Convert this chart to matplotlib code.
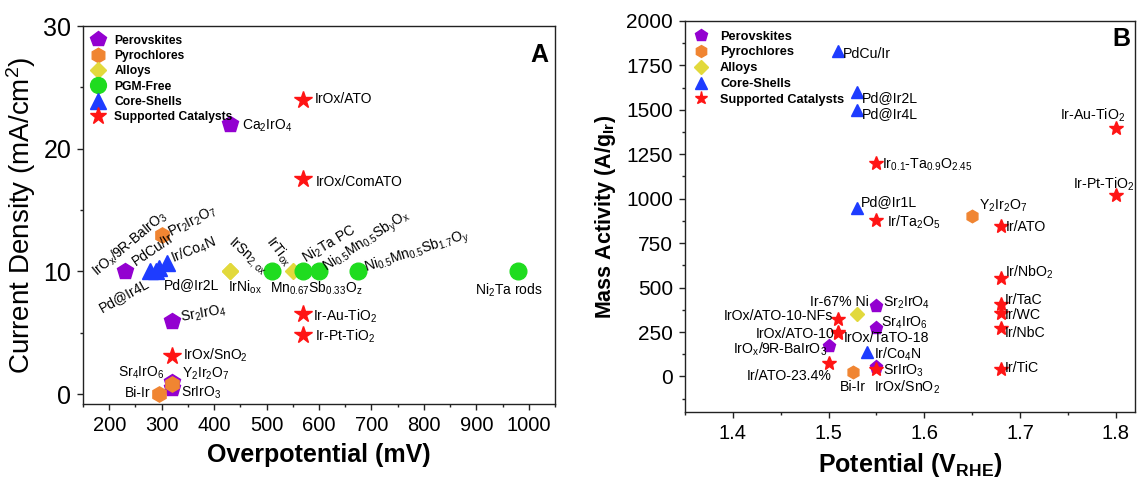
import matplotlib.pyplot as plt
from matplotlib.ticker import MultipleLocator

plt.rcParams['font.family'] = ['Liberation Sans', 'DejaVu Sans']
plt.rcParams['mathtext.fontset'] = 'custom'
plt.rcParams['mathtext.rm'] = 'Liberation Sans'
plt.rcParams['mathtext.bf'] = 'Liberation Sans:bold'
plt.rcParams['mathtext.default'] = 'regular'

# ---------------- panel A: overpotential (mV) / current density (mA/cm2)
a_perov_eta = [230, 430, 320, 320, 320]
a_perov_j = [10, 22, 6, 1.0, 0.5]
a_perov_names = ['IrO$_x$/9R-BaIrO$_3$', 'Ca$_2$IrO$_4$', 'Sr$_2$IrO$_4$',
                 'Sr$_4$IrO$_6$', 'SrIrO$_3$']

a_pyro_eta = [300, 320, 295]
a_pyro_j = [13, 0.8, 0]
a_pyro_names = ['Pr$_2$Ir$_2$O$_7$', 'Y$_2$Ir$_2$O$_7$', 'Bi-Ir']

a_alloy_eta = [430, 430, 550]
a_alloy_j = [10, 10, 10]
a_alloy_names = ['IrSn$_{2,ox}$', 'IrNi$_{ox}$', 'IrTi$_{ox}$']

a_pgm_eta = [510, 570, 600, 675, 980]
a_pgm_j = [10, 10, 10, 10, 10]
a_pgm_names = ['Mn$_{0.67}$Sb$_{0.33}$O$_z$', 'Ni$_2$Ta PC',
               'Ni$_{0.5}$Mn$_{0.5}$Sb$_y$O$_x$',
               'Ni$_{0.5}$Mn$_{0.5}$Sb$_{1.7}$O$_y$', 'Ni$_2$Ta rods']

a_core_eta = [278, 290, 295, 310]
a_core_j = [10, 10, 10.3, 10.7]
a_core_names = ['Pd@Ir4L', 'Pd@Ir2L', 'PdCu/Ir', 'Ir/Co$_4$N']

a_supp_eta = [570, 570, 570, 570, 320]
a_supp_j = [24, 17.5, 6.5, 4.8, 3.1]
a_supp_names = ['IrOx/ATO', 'IrOx/ComATO', 'Ir-Au-TiO$_2$', 'Ir-Pt-TiO$_2$',
                'IrOx/SnO$_2$']

# ---------------- panel B: potential (V_RHE) / mass activity (A/g_Ir)
b_perov_e = [1.55, 1.55, 1.50, 1.55]
b_perov_ma = [395, 275, 170, 55]
b_perov_names = ['Sr$_2$IrO$_4$', 'Sr$_4$IrO$_6$', 'IrO$_x$/9R-BaIrO$_3$',
                 'SrIrO$_3$']

b_pyro_e = [1.65, 1.525]
b_pyro_ma = [900, 25]
b_pyro_names = ['Y$_2$Ir$_2$O$_7$', 'Bi-Ir']

b_alloy_e = [1.53]
b_alloy_ma = [350]
b_alloy_names = ['Ir-67% Ni']

b_core_e = [1.51, 1.53, 1.53, 1.53, 1.54]
b_core_ma = [1830, 1600, 1500, 950, 140]
b_core_names = ['PdCu/Ir', 'Pd@Ir2L', 'Pd@Ir4L', 'Pd@Ir1L', 'Ir/Co$_4$N']

b_supp_e = [1.80, 1.80, 1.55, 1.55, 1.68, 1.68, 1.68, 1.68, 1.68, 1.68,
            1.51, 1.51, 1.51, 1.50, 1.55]
b_supp_ma = [1400, 1020, 1200, 880, 845, 555, 410, 355, 270, 40,
             325, 250, 245, 75, 40]
b_supp_names = ['Ir-Au-TiO$_2$', 'Ir-Pt-TiO$_2$', 'Ir$_{0.1}$-Ta$_{0.9}$O$_{2.45}$',
                'Ir/Ta$_2$O$_5$', 'Ir/ATO', 'Ir/NbO$_2$', 'Ir/TaC', 'Ir/WC',
                'Ir/NbC', 'Ir/TiC', 'IrOx/ATO-10-NFs', 'IrOx/ATO-10',
                'IrOx/TaTO-18', 'Ir/ATO-23.4%', 'IrOx/SnO$_2$']

# marker style per class
styles = {
    'Perovskites': dict(marker='p', color='#9300d0'),
    'Pyrochlores': dict(marker='h', color='#f08532'),
    'Alloys': dict(marker='D', color='#e2d93c'),
    'PGM-Free': dict(marker='o', color='#1fdc1f'),
    'Core-Shells': dict(marker='^', color='#1e3cff'),
    'Supported Catalysts': dict(marker='*', color='#ff1414'),
}

# label offsets in pixels from the marker: (dx, dy, ha, rotation)
a_label_pos = {
    'IrO$_x$/9R-BaIrO$_3$': (-28, -5, 'left', 40),
    'Ca$_2$IrO$_4$': (12, -5.6, 'left', 0),
    'Sr$_2$IrO$_4$': (9, -1.5, 'left', 10),
    'Sr$_4$IrO$_6$': (-8, 5.4, 'right', 0),
    'SrIrO$_3$': (9, -8.8, 'left', 0),
    'Pr$_2$Ir$_2$O$_7$': (9.5, -2.2, 'left', 27),
    'Y$_2$Ir$_2$O$_7$': (9.7, 7, 'left', 0),
    'Bi-Ir': (-9, -2.7, 'right', 0),
    'IrSn$_{2,ox}$': (-1.5, 28.7, 'left', -42),
    'IrNi$_{ox}$': (-1.75, -19.7, 'left', 0),
    'IrTi$_{ox}$': (-27, 30.3, 'left', -52),
    'Mn$_{0.67}$Sb$_{0.33}$O$_z$': (-1.75, -20.7, 'left', 0),
    'Ni$_2$Ta PC': (2.75, 8.7, 'left', 31),
    'Ni$_{0.5}$Mn$_{0.5}$Sb$_y$O$_x$': (7.7, 0.3, 'left', 33),
    'Ni$_{0.5}$Mn$_{0.5}$Sb$_{1.7}$O$_y$': (7.5, -0.7, 'left', 18),
    'Ni$_2$Ta rods': (-9.5, -23, 'center', 0),
    'Pd@Ir4L': (-48.3, -40.7, 'left', 29),
    'Pd@Ir2L': (7.75, -18, 'left', 0),
    'PdCu/Ir': (-23, 1.6, 'left', 34),
    'Ir/Co$_4$N': (6, 0, 'left', 22),
    'IrOx/ATO': (11.75, -3.5, 'left', 0),
    'IrOx/ComATO': (12.75, -7, 'left', 0),
    'Ir-Au-TiO$_2$': (10, -5.7, 'left', 0),
    'Ir-Pt-TiO$_2$': (11.75, -5.7, 'left', 0),
    'IrOx/SnO$_2$': (11, -3.8, 'left', 0),
}

b_label_pos = {
    'Sr$_2$IrO$_4$': (6.2, -0.5, 'left'),
    'Sr$_4$IrO$_6$': (5, 1.2, 'left'),
    'IrO$_x$/9R-BaIrO$_3$': (-1.7, -7.4, 'right'),
    'SrIrO$_3$': (6.2, -8, 'left'),
    'Y$_2$Ir$_2$O$_7$': (6.9, 7, 'left'),
    'Bi-Ir': (0, -18.8, 'center'),
    'Ir-67% Ni': (12, 7.8, 'right'),
    'PdCu/Ir': (5.2, -6.7, 'left'),
    'Pd@Ir2L': (4.5, -9.5, 'left'),
    'Pd@Ir4L': (4.5, -7.8, 'left'),
    'Pd@Ir1L': (3.8, 1.6, 'left'),
    'Ir/Co$_4$N': (7.6, -7, 'left'),
    'Ir-Au-TiO$_2$': (9.7, 8.1, 'right'),
    'Ir-Pt-TiO$_2$': (18.3, 7, 'right'),
    'Ir$_{0.1}$-Ta$_{0.9}$O$_{2.45}$': (5.2, -5.7, 'left'),
    'Ir/Ta$_2$O$_5$': (10.3, -6.7, 'left'),
    'Ir/ATO': (5.2, -5, 'left'),
    'Ir/NbO$_2$': (4.1, 1.2, 'left'),
    'Ir/TaC': (4.1, -0.5, 'left'),
    'Ir/WC': (4.1, -5.7, 'left'),
    'Ir/NbC': (4.1, -8.4, 'left'),
    'Ir/TiC': (4.1, -2.2, 'left'),
    'IrOx/ATO-10-NFs': (-5.2, -0.9, 'right'),
    'IrOx/ATO-10': (-3.4, -6, 'right'),
    'IrOx/TaTO-18': (5.2, -9.5, 'left'),
    'Ir/ATO-23.4%': (3.4, -16.4, 'right'),
    'IrOx/SnO$_2$': (-2.4, -22.5, 'left'),
}


def style_axes(ax, xfs, yfs):
    for s in ax.spines.values():
        s.set_linewidth(1.0)
        s.set_color('#222222')
    ax.tick_params(which='both', direction='out', top=False, right=False,
                   color='#222222', width=1.0)
    ax.tick_params(which='major', length=4.5, pad=4)
    ax.tick_params(which='minor', length=2.5)
    ax.tick_params(axis='x', labelsize=xfs)
    ax.tick_params(axis='y', labelsize=yfs)


fig = plt.figure(figsize=(11.39, 4.79), dpi=100)

# ---- A
axA = fig.add_axes([0.0729, 0.1566, 0.4144, 0.789])
a_series = [
    ('Perovskites', a_perov_eta, a_perov_j, a_perov_names, 12),
    ('Pyrochlores', a_pyro_eta, a_pyro_j, a_pyro_names, 11),
    ('Alloys', a_alloy_eta, a_alloy_j, a_alloy_names, 8.5),
    ('PGM-Free', a_pgm_eta, a_pgm_j, a_pgm_names, 12),
    ('Core-Shells', a_core_eta, a_core_j, a_core_names, 11.5),
    ('Supported Catalysts', a_supp_eta, a_supp_j, a_supp_names, 13),
]
for cls, xs, ys, names, ms in a_series:
    st = styles[cls]
    axA.plot(xs, ys, ls='none', marker=st['marker'], color=st['color'],
             mec=st['color'], ms=ms, label=cls)
    for x, y, name in zip(xs, ys, names):
        dx, dy, ha, rot = a_label_pos[name]
        axA.annotate(name, (x, y), xytext=(dx, dy), textcoords='offset pixels',
                     ha=ha, va='baseline', rotation=rot,
                     rotation_mode='anchor', fontsize=10)

axA.set_xlim(150, 1050)
axA.set_ylim(-0.8, 30)
axA.xaxis.set_major_locator(MultipleLocator(100))
axA.xaxis.set_minor_locator(MultipleLocator(50))
axA.yaxis.set_major_locator(MultipleLocator(10))
axA.yaxis.set_minor_locator(MultipleLocator(5))
style_axes(axA, 14.5, 18)
axA.set_xlabel('Overpotential (mV)', fontsize=18, fontweight='bold', labelpad=6)
axA.set_ylabel('Current Density (mA/cm$^2$)', fontsize=20, labelpad=4)
axA.text(0.985, 0.955, 'A', transform=axA.transAxes, ha='right', va='top',
         fontsize=18, fontweight='bold')
axA.legend(loc='upper left', frameon=False, prop=dict(weight='bold', size=8.7),
           markerscale=0.95, handlelength=1.0, handletextpad=0.9,
           labelspacing=0.28, borderaxespad=0.3, borderpad=0.4, numpoints=1)

# ---- B
axB = fig.add_axes([0.6014, 0.1399, 0.395, 0.8163])
b_series = [
    ('Perovskites', b_perov_e, b_perov_ma, b_perov_names, 9.5),
    ('Pyrochlores', b_pyro_e, b_pyro_ma, b_pyro_names, 9),
    ('Alloys', b_alloy_e, b_alloy_ma, b_alloy_names, 7),
    ('Core-Shells', b_core_e, b_core_ma, b_core_names, 9),
    ('Supported Catalysts', b_supp_e, b_supp_ma, b_supp_names, 10),
]
for cls, xs, ys, names, ms in b_series:
    st = styles[cls]
    axB.plot(xs, ys, ls='none', marker=st['marker'], color=st['color'],
             mec=st['color'], ms=ms, label=cls)
    for x, y, name in zip(xs, ys, names):
        dx, dy, ha = b_label_pos[name]
        axB.annotate(name, (x, y), xytext=(dx, dy), textcoords='offset pixels',
                     ha=ha, va='baseline', fontsize=10.2)

axB.set_xlim(1.35, 1.82)
axB.set_ylim(-200, 2000)
axB.xaxis.set_major_locator(MultipleLocator(0.1))
axB.xaxis.set_minor_locator(MultipleLocator(0.05))
axB.yaxis.set_major_locator(MultipleLocator(250))
axB.yaxis.set_minor_locator(MultipleLocator(125))
axB.set_yticks([0, 250, 500, 750, 1000, 1250, 1500, 1750, 2000])
style_axes(axB, 14.5, 15)
axB.set_xlabel('Potential (V$_{RHE}$)', fontsize=18, fontweight='bold', labelpad=6)
axB.set_ylabel('Mass Activity (A/g$_{Ir}$)', fontsize=15.5, fontweight='bold',
               labelpad=6)
axB.text(0.99, 0.985, 'B', transform=axB.transAxes, ha='right', va='top',
         fontsize=18, fontweight='bold')
axB.legend(loc='upper left', frameon=False, prop=dict(weight='bold', size=9.2),
           markerscale=0.95, handlelength=1.0, handletextpad=1.0,
           labelspacing=0.3, borderaxespad=0.3, borderpad=0.45, numpoints=1)

fig.savefig('out.png', dpi=100)
